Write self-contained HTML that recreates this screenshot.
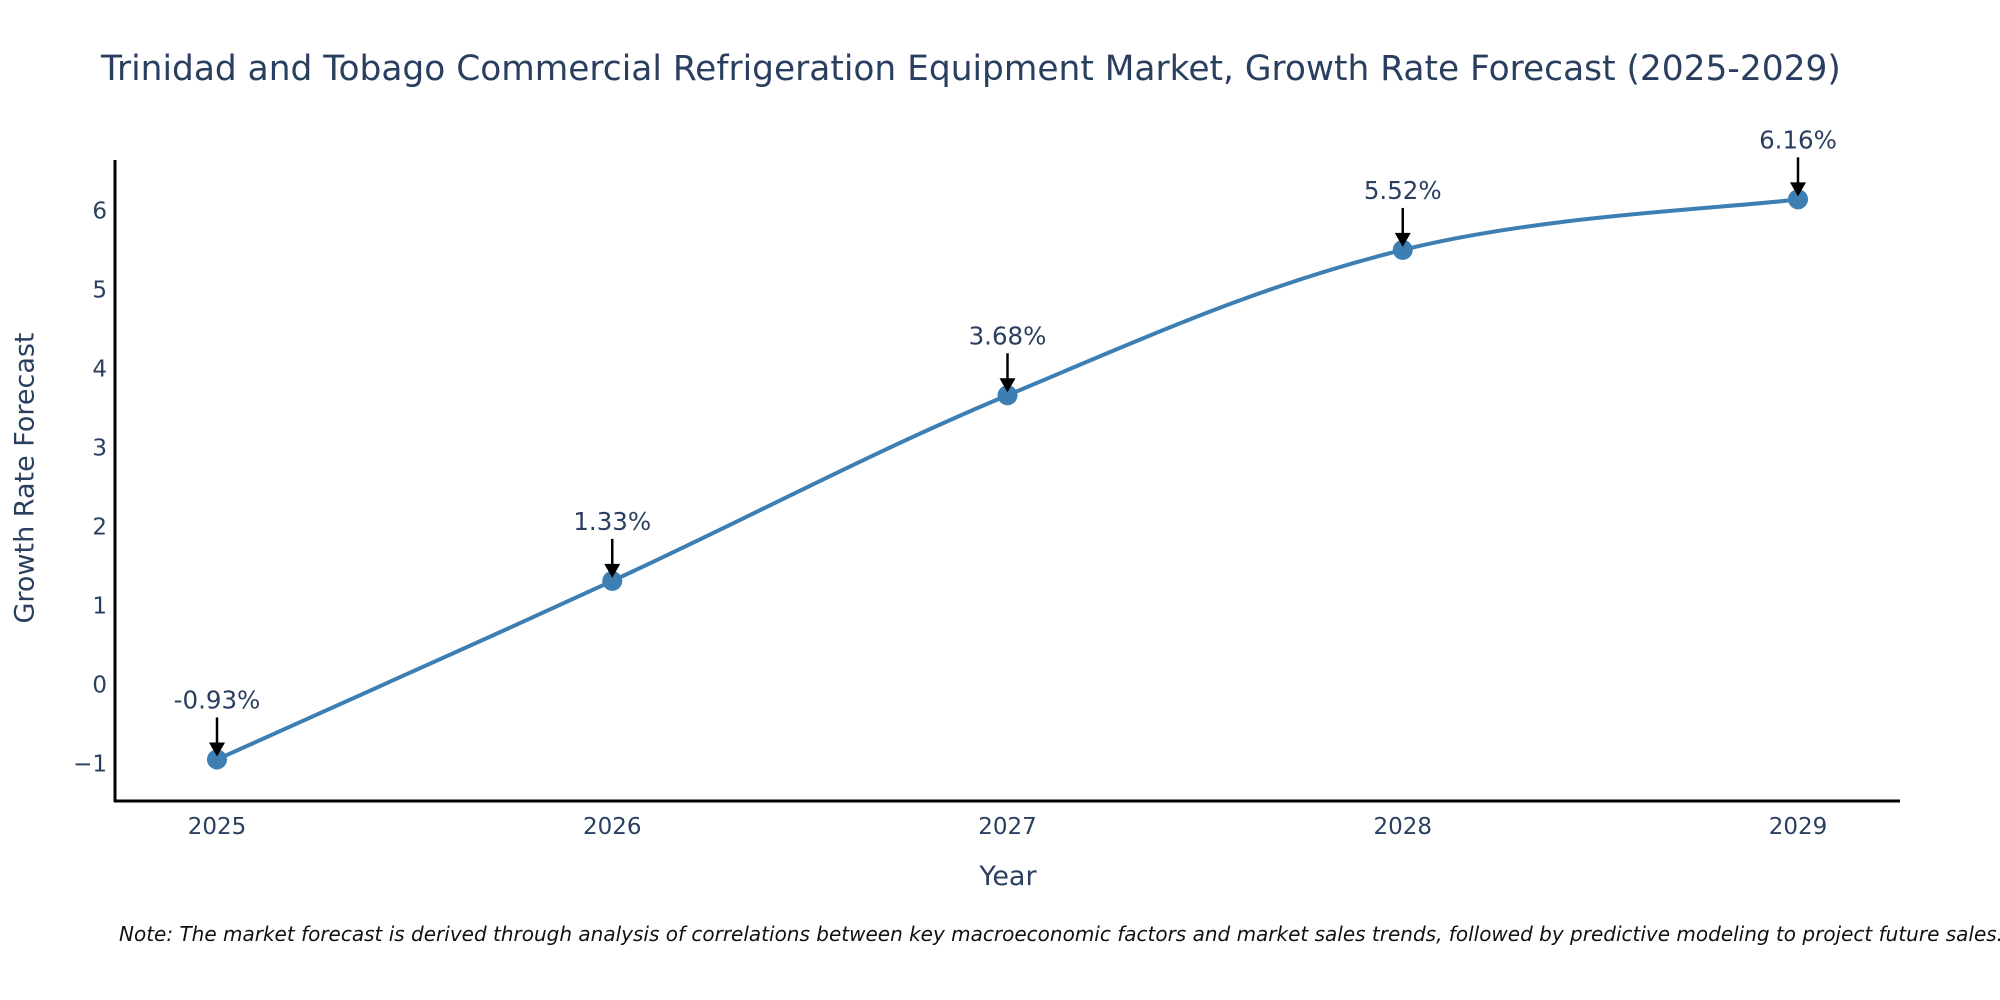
<!DOCTYPE html>
<html><head><meta charset="utf-8"><style>
html,body{margin:0;padding:0;background:#fff;}
svg{display:block;font-family:"DejaVu Sans","Liberation Sans",sans-serif;}
</style></head><body>
<svg id="chart" width="2000" height="1000">
<text x="101" y="80" font-size="34.4" fill="#2a3f5f">Trinidad and Tobago Commercial Refrigeration Equipment Market, Growth Rate Forecast (2025-2029)</text>
<g id="yticks"></g>
<g id="xticks"></g>
<line x1="115" y1="160" x2="115" y2="802" stroke="#000" stroke-width="3"/>
<line x1="114" y1="801" x2="1900" y2="801" stroke="#000" stroke-width="3"/>
<text x="26" y="478" font-size="27" fill="#2a3f5f" text-anchor="middle" dominant-baseline="middle" transform="rotate(-90 26 478)">Growth Rate Forecast</text>
<text x="1008" y="885" font-size="27" fill="#2a3f5f" text-anchor="middle">Year</text>
<g id="series"></g>
<text x="119" y="941" font-size="20" font-style="italic" fill="#111">Note: The market forecast is derived through analysis of correlations between key macroeconomic factors and market sales trends, followed by predictive modeling to project future sales.</text>
</svg>
<script>
const categories = ["2025","2026","2027","2028","2029"];
const values = [-0.93, 1.33, 3.68, 5.52, 6.16];
const labels = ["-0.93%","1.33%","3.68%","5.52%","6.16%"];
const yTicks = [-1,0,1,2,3,4,5,6];
const yTickLabels = ["\u22121","0","1","2","3","4","5","6"];

const NS="http://www.w3.org/2000/svg";
function xs(i){return 217 + i*395.25;}
function ys(v){return 686 - v*79;}
function mk(tag,attrs,parent){const e=document.createElementNS(NS,tag);for(const k in attrs)e.setAttribute(k,attrs[k]);parent.appendChild(e);return e;}

const yg=document.getElementById('yticks');
yTicks.forEach((t,i)=>{
  const e=mk('text',{x:107,y:ys(t),'font-size':23,fill:'#2a3f5f','text-anchor':'end','dominant-baseline':'middle'},yg);
  
  
  e.textContent=yTickLabels[i];
});
const xg=document.getElementById('xticks');
categories.forEach((c,i)=>{
  const e=mk('text',{x:xs(i),y:834,'font-size':23,fill:'#2a3f5f','text-anchor':'middle'},xg);
  
  
  e.textContent=c;
});

const sg=document.getElementById('series');
const pts=values.map((v,i)=>[xs(i),ys(v)]);
let d='M'+pts[0][0]+','+pts[0][1];
const s=0.18;
for(let i=0;i<pts.length-1;i++){
  const p0=pts[i-1]||pts[i],p1=pts[i],p2=pts[i+1],p3=pts[i+2]||pts[i+1];
  const c1=[p1[0]+(p2[0]-p0[0])*s,p1[1]+(p2[1]-p0[1])*s];
  const c2=[p2[0]-(p3[0]-p1[0])*s,p2[1]-(p3[1]-p1[1])*s];
  d+=` C${c1[0]},${c1[1]} ${c2[0]},${c2[1]} ${p2[0]},${p2[1]}`;
}
const line=mk('path',{d:d,fill:'none',stroke:'#3d7fb3','stroke-width':4},sg);



pts.forEach((p,i)=>{
  const c=mk('circle',{cx:p[0],cy:p[1],r:10,fill:'#3d7fb3'},sg);
  
  
  const a=mk('line',{x1:p[0],y1:p[1]-42,x2:p[0],y2:p[1]-14,stroke:'#000','stroke-width':2.5},sg);
  
  
  const h=mk('polygon',{points:`${p[0]-8},${p[1]-17} ${p[0]+8},${p[1]-17} ${p[0]},${p[1]-3}`,fill:'#000'},sg);
  
  
  const t=mk('text',{x:p[0],y:p[1]-51,'font-size':24.5,fill:'#2a3f5f','text-anchor':'middle'},sg);
  
  
  t.textContent=labels[i];
});
</script>
</body></html>
